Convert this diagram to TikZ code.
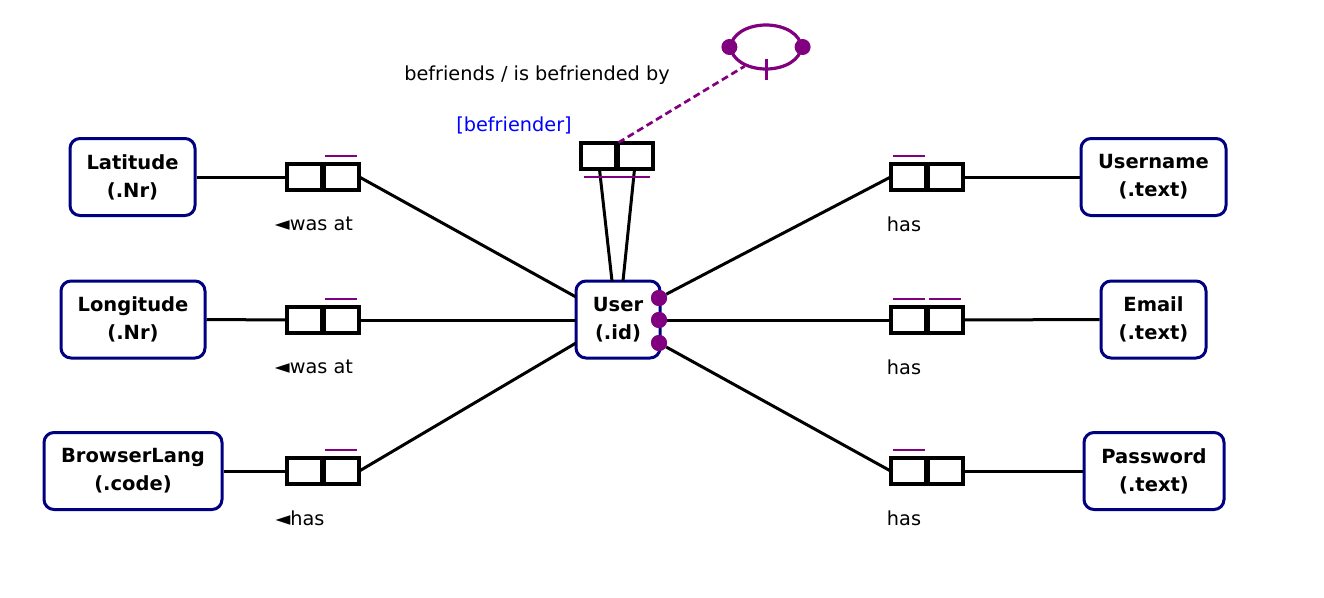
\documentclass[tikz,border=0pt]{standalone}
\usepackage{fontspec}
\setmainfont{DejaVu Sans}
\usetikzlibrary{shapes.geometric}
\definecolor{navyb}{RGB}{0,0,128}
\definecolor{purp}{RGB}{128,0,128}
\definecolor{roleblue}{RGB}{0,0,255}
\tikzset{
  entity/.style={draw=navyb, line width=3pt, rounded corners=10pt, fill=white, align=center, inner sep=0pt,
    font=\fontsize{19.5}{28}\selectfont\bfseries, minimum height=77pt},
  cell/.style={draw=black, line width=2.7pt, minimum width=35pt, minimum height=24pt, inner sep=0pt, fill=white},
  conn/.style={line width=3pt, black},
  ubar/.style={draw=purp, line width=2.7pt},
  lbl/.style={font=\fontsize{19.3}{22}\selectfont, inner sep=0pt},
  pdot/.style={circle, fill=purp, inner sep=0pt, minimum size=16pt}
}
\begin{document}
\begin{tikzpicture}[x=1pt,y=-1pt]
\useasboundingbox (0,0) rectangle (1324,597);
% entities
\node[entity, minimum width=125pt] (lat) at (132.5,177) {Latitude\\(.Nr)};
\node[entity, minimum width=144pt] (lon) at (133,319.5) {Longitude\\(.Nr)};
\node[entity, minimum width=178pt] (bl) at (133,471) {BrowserLang\\(.code)};
\node[entity, minimum width=84pt] (user) at (618,319.5) {User\\(.id)};
\node[entity, minimum width=145pt] (un) at (1153.5,177) {Username\\(.text)};
\node[entity, minimum width=105pt] (em) at (1153.5,319.5) {Email\\(.text)};
\node[entity, minimum width=140pt] (pw) at (1154,471) {Password\\(.text)};
% fact boxes left
\node[cell] (f1a) at (305.5,177) {}; \node[cell] (f1b) at (340.5,177) {};
\node[cell] (f2a) at (305.5,320) {}; \node[cell] (f2b) at (340.5,320) {};
\node[cell] (f3a) at (305.5,471) {}; \node[cell] (f3b) at (340.5,471) {};
% fact boxes right
\node[cell] (g1a) at (909.5,177) {}; \node[cell] (g1b) at (944.5,177) {};
\node[cell] (g2a) at (909.5,320) {}; \node[cell] (g2b) at (944.5,320) {};
\node[cell] (g3a) at (909.5,471) {}; \node[cell] (g3b) at (944.5,471) {};
% top fact
\node[cell] (ta) at (599.5,156) {}; \node[cell] (tb) at (634.5,156) {};
% user dots
\node[pdot] (d1) at (659,298) {};
\node[pdot] (d2) at (659,320) {};
\node[pdot] (d3) at (659,343) {};
% coordinates on user
\coordinate (u1) at (576,297);
\coordinate (u2) at (576,320);
\coordinate (u3) at (576,343);
\coordinate (u4) at (612,281);
\coordinate (u5) at (623,281);
% connectors left
\draw[conn] (lat.east) -- (f1a.west);
\draw[conn] (f1b.east) -- (u1);
\draw[conn] (lon.east) -- (f2a.west);
\draw[conn] (f2b.east) -- (u2);
\draw[conn] (bl.east) -- (f3a.west);
\draw[conn] (f3b.east) -- (u3);
% connectors right
\draw[conn] (d1) -- (g1a.west);
\draw[conn] (g1b.east) -- (un.west);
\draw[conn] (d2) -- (g2a.west);
\draw[conn] (g2b.east) -- (em.west);
\draw[conn] (d3) -- (g3a.west);
\draw[conn] (g3b.east) -- (pw.west);
% top
\draw[conn] (ta.south) -- (u4);
\draw[conn] (tb.south) -- (u5);
% redraw cells and dots on top
\foreach \n in {f1a,f1b,f2a,f2b,f3a,f3b,g1a,g1b,g2a,g2b,g3a,g3b,ta,tb}{\draw[line width=2.7pt] (\n.north west) rectangle (\n.south east);}
\foreach \n in {d1,d2,d3}{\fill[purp] (\n) circle (8pt);}
% uniqueness bars
\draw[ubar] (325,156) -- (357,156);
\draw[ubar] (325,299) -- (357,299);
\draw[ubar] (325,450) -- (357,450);
\draw[ubar] (893,156) -- (925,156);
\draw[ubar] (893,299) -- (925,299);
\draw[ubar] (929,299) -- (961,299);
\draw[ubar] (893,450) -- (925,450);
\draw[ubar] (584,177) -- (650,177);
% ring constraint
\node[ellipse, draw=purp, line width=3.2pt, minimum width=70pt, minimum height=44pt, inner sep=0pt] (ring) at (766,47) {};
\fill[purp] (ring.west) circle (8pt);
\fill[purp] (ring.east) circle (8pt);
\draw[purp, line width=3pt] (766,59) -- (766,80);
\draw[purp, line width=2.7pt, dash pattern=on 7pt off 4pt] (ta.north east) -- (ring.222);
% labels
\node[lbl] (t0) at (537,75) {befriends / is befriended by};
\node[lbl, text=roleblue] (t1) at (514,125) {[befriender]};
\node[lbl] (l1) at (314,224) {◄was at};
\node[lbl] (l2) at (314,367) {◄was at};
\node[lbl] (l3) at (300,518) {◄has};
\node[lbl] (r1) at (904,224) {has};
\node[lbl] (r2) at (904,367) {has};
\node[lbl] (r3) at (904,518) {has};
\end{tikzpicture}
\end{document}
